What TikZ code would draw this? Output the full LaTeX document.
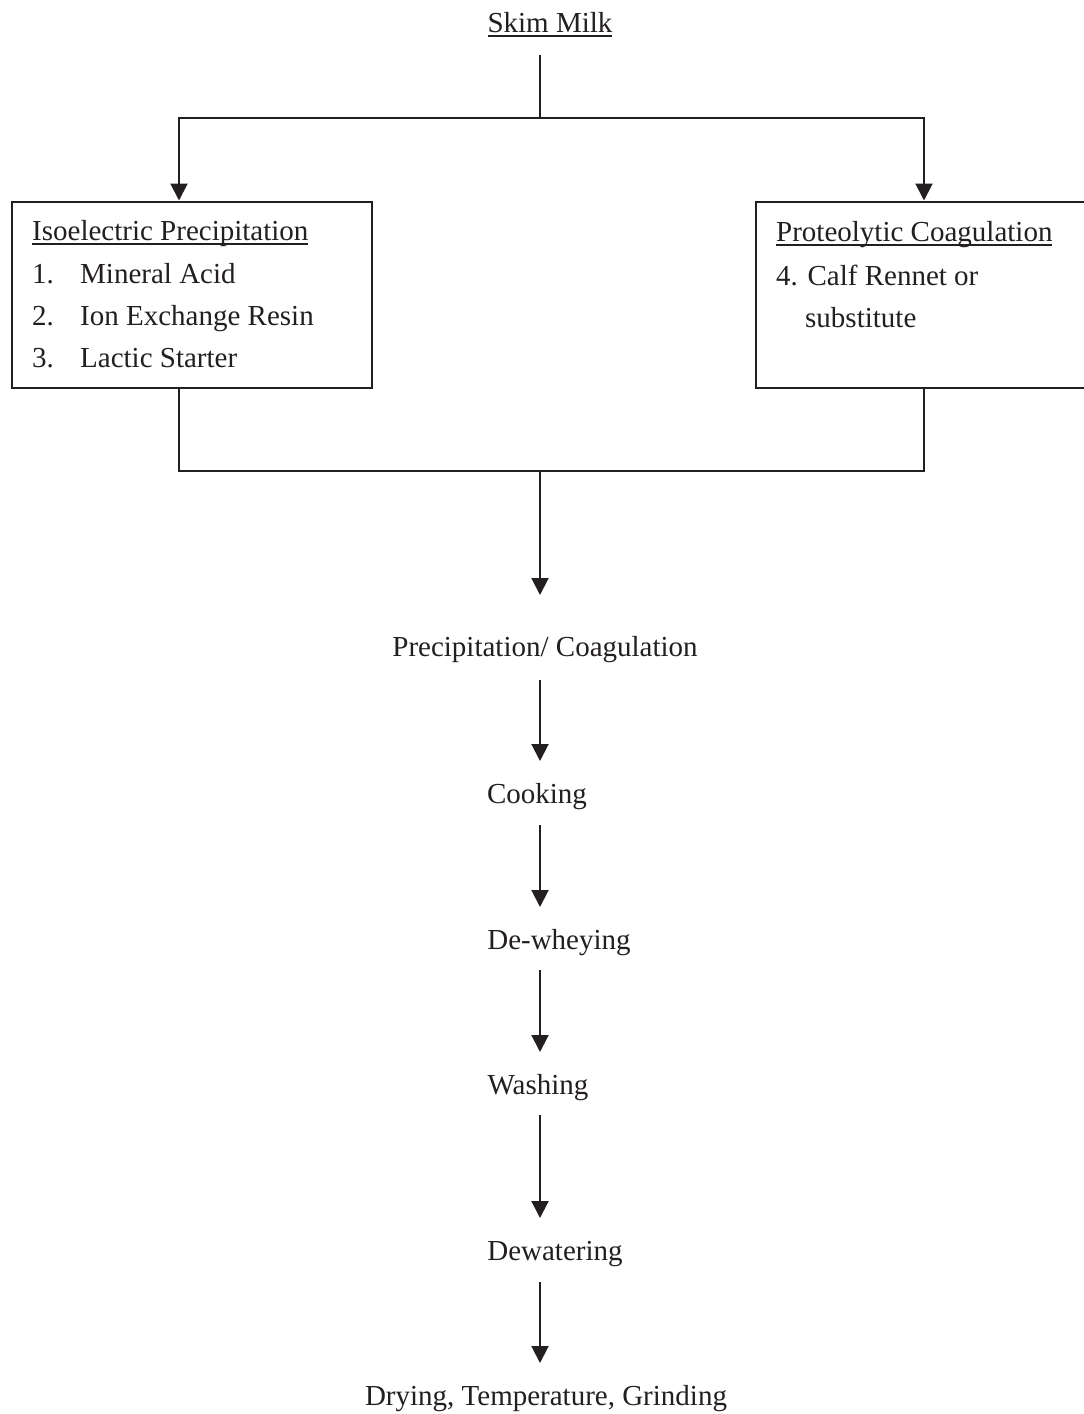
\documentclass[tikz,border=0pt]{standalone}
\usepackage{fontspec}
\setmainfont{Liberation Serif}
\usetikzlibrary{arrows.meta,calc}
\newsavebox{\myulbox}
\newcommand{\myul}[1]{\sbox{\myulbox}{#1}\rlap{\rule[-5pt]{\wd\myulbox}{1.6pt}}\usebox{\myulbox}}
\definecolor{ink}{HTML}{231F20}
\tikzset{
  ln/.style={draw=ink, line width=2pt},
  arr/.style={ln, -{Triangle[width=17pt,length=17pt]}},
  boxnode/.style={draw=ink, line width=2pt, rectangle, inner sep=0pt, anchor=north west},
  txt/.style={inner sep=0pt, text=ink, font=\fontsize{29}{34}\selectfont},
  lt/.style={txt, anchor=base west},
  st/.style={txt, anchor=base},
}
\begin{document}
\begin{tikzpicture}[x=1pt,y=-1pt]
\useasboundingbox (0,0) rectangle (1084,1414);
\clip (0,0) rectangle (1084,1414);
\fill[white] (0,0) rectangle (1084,1414);

\coordinate (col) at (540,0);

% top
\node[st] (skim) at (550,32) {\myul{Skim Milk}};

% boxes
\node[boxnode, minimum width=360pt, minimum height=186pt] (lbox) at (11,200.5) {};
\node[boxnode, minimum width=400pt, minimum height=186pt] (rbox) at (755,200.5) {};

\node[lt] (ltitle) at (32,240) {\myul{Isoelectric Precipitation}};
\node[lt] (l1) at (32,283) {\makebox[48pt][l]{1.}Mineral Acid};
\node[lt] (l2) at (32,325) {\makebox[48pt][l]{2.}Ion Exchange Resin};
\node[lt] (l3) at (32,367) {\makebox[48pt][l]{3.}Lactic Starter};

\node[lt] (rtitle) at (776,241) {\myul{Proteolytic Coagulation}};
\node[lt] (r1) at (776,285) {4. Calf Rennet or};
\node[lt] (r2) at (805,327) {substitute};

% steps
\node[st] (prec) at (545,656) {Precipitation/ Coagulation};
\node[st] (cook) at (537,803) {Cooking};
\node[st] (dewhey) at (559,949) {De-wheying};
\node[st] (wash) at (538,1094) {Washing};
\node[st] (dewat) at (555,1260) {Dewatering};
\node[st] (dry) at (546,1405) {Drying, Temperature, Grinding};

% coordinates
\coordinate (split) at (540,117.5);
\coordinate (merge) at (540,470.5);
\coordinate (lin) at ($(lbox.north west)+(168,0)$);
\coordinate (rin) at ($(rbox.north west)+(169,0)$);
\coordinate (lout) at ($(lbox.south west)+(168,0)$);
\coordinate (rout) at ($(rbox.south west)+(169,0)$);

% connectors
\draw[ln] ($(col |- skim.base)+(0,23)$) -- (split);
\draw[arr] (split) -| (lin);
\draw[arr] (split) -| (rin);
\draw[ln] (lout) |- (merge) -| (rout);
\draw[arr] (merge) -- ($(col |- prec.base)+(0,-61)$);
\draw[arr] ($(col |- prec.base)+(0,24)$) -- ($(col |- cook.base)+(0,-42)$);
\draw[arr] ($(col |- cook.base)+(0,22)$) -- ($(col |- dewhey.base)+(0,-42)$);
\draw[arr] ($(col |- dewhey.base)+(0,21)$) -- ($(col |- wash.base)+(0,-42)$);
\draw[arr] ($(col |- wash.base)+(0,21)$) -- ($(col |- dewat.base)+(0,-42)$);
\draw[arr] ($(col |- dewat.base)+(0,22)$) -- ($(col |- dry.base)+(0,-42)$);
\end{tikzpicture}
\end{document}
